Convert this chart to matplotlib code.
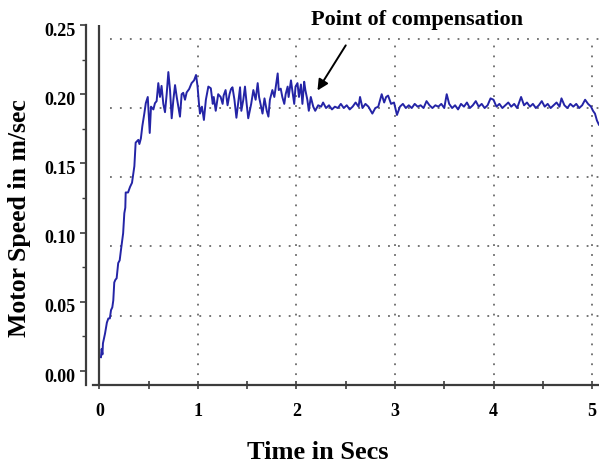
import numpy as np
import matplotlib.pyplot as plt
import matplotlib.transforms as mtransforms
from matplotlib.ticker import MultipleLocator, FixedLocator

# motor speed trace (time in s, speed in m/s)
rise_t = [0.015, 0.022, 0.03, 0.035, 0.056, 0.075, 0.09, 0.105, 0.117, 0.13,
          0.14, 0.15, 0.162, 0.174, 0.19, 0.205, 0.218, 0.24, 0.252, 0.262,
          0.266, 0.29, 0.31, 0.33, 0.354, 0.367, 0.394, 0.405, 0.42, 0.435,
          0.455, 0.47, 0.49, 0.51]
rise_v = [0.010, 0.016, 0.012, 0.020, 0.027, 0.035, 0.038, 0.038, 0.044, 0.046,
          0.051, 0.064, 0.066, 0.067, 0.078, 0.080, 0.0875, 0.0995, 0.114, 0.118,
          0.129, 0.129, 0.133, 0.136, 0.148, 0.165, 0.167, 0.164, 0.168, 0.177,
          0.186, 0.1935, 0.198, 0.172]

noisy_t = [0.523, 0.547, 0.563, 0.58, 0.597, 0.614, 0.63, 0.648, 0.665, 0.682,
           0.699, 0.716, 0.733, 0.75, 0.767, 0.784, 0.80, 0.817, 0.834, 0.85,
           0.868, 0.885, 0.91, 0.935, 0.96, 0.98, 0.995, 1.01, 1.02, 1.04,
           1.06, 1.08, 1.105, 1.13, 1.15, 1.16, 1.18, 1.205, 1.23, 1.25,
           1.26, 1.28, 1.30, 1.32, 1.335, 1.35, 1.37, 1.39, 1.41, 1.427,
           1.44, 1.46, 1.477, 1.494, 1.51, 1.54, 1.562, 1.585, 1.606, 1.62,
           1.64, 1.655, 1.675, 1.698, 1.715, 1.73, 1.755, 1.775, 1.79, 1.809,
           1.82, 1.84, 1.856, 1.876, 1.89, 1.91, 1.92, 1.944, 1.957, 1.977,
           1.99, 2.01, 2.025, 2.045, 2.06, 2.078, 2.09, 2.11, 2.125, 2.145,
           2.17, 2.19, 2.22, 2.25, 2.27]
noisy_v = [0.191, 0.189, 0.1935, 0.195, 0.208, 0.198, 0.206, 0.193, 0.187, 0.200,
           0.216, 0.203, 0.1826, 0.196, 0.2066, 0.198, 0.191, 0.1838, 0.200, 0.201,
           0.196, 0.2013, 0.2037, 0.208, 0.210, 0.2139, 0.206, 0.193, 0.186, 0.191,
           0.1814, 0.196, 0.2055, 0.2043, 0.193, 0.198, 0.188, 0.200, 0.198, 0.193,
           0.199, 0.203, 0.192, 0.200, 0.2037, 0.205, 0.196, 0.183, 0.195, 0.205,
           0.188, 0.196, 0.2055, 0.193, 0.1826, 0.193, 0.203, 0.196, 0.208, 0.198,
           0.191, 0.186, 0.197, 0.188, 0.1838, 0.196, 0.203, 0.198, 0.2055, 0.215,
           0.203, 0.204, 0.198, 0.193, 0.200, 0.2055, 0.198, 0.210, 0.203, 0.193,
           0.2055, 0.208, 0.198, 0.207, 0.193, 0.209, 0.203, 0.196, 0.188, 0.198,
           0.191, 0.188, 0.192, 0.191, 0.194]

settled_t = [2.30, 2.33, 2.36, 2.39, 2.42, 2.45, 2.48, 2.51, 2.54, 2.57,
             2.60, 2.63, 2.645, 2.67, 2.70, 2.73, 2.77, 2.80, 2.83, 2.865,
             2.89, 2.91, 2.93, 2.96, 2.99, 3.02, 3.05, 3.08, 3.11, 3.14,
             3.17, 3.20, 3.23, 3.26, 3.29, 3.32, 3.35, 3.38, 3.41, 3.44,
             3.47, 3.50, 3.525, 3.55, 3.58, 3.61, 3.64, 3.67, 3.70, 3.73,
             3.76, 3.79, 3.82, 3.85, 3.88, 3.91, 3.94, 3.97, 4.00, 4.03,
             4.06, 4.09, 4.12, 4.15, 4.18, 4.21, 4.24, 4.28, 4.31, 4.34,
             4.37, 4.40, 4.43, 4.46, 4.49, 4.52, 4.55, 4.58, 4.61, 4.64,
             4.67, 4.69, 4.72, 4.75, 4.78, 4.81, 4.84, 4.87, 4.90, 4.93,
             4.96, 4.99, 5.01, 5.03, 5.05, 5.07]
settled_v = [0.190, 0.192, 0.189, 0.191, 0.190, 0.193, 0.190, 0.192, 0.189, 0.191,
             0.194, 0.191, 0.198, 0.190, 0.193, 0.191, 0.186, 0.190, 0.191, 0.200,
             0.194, 0.198, 0.199, 0.193, 0.194, 0.185, 0.191, 0.193, 0.190, 0.192,
             0.190, 0.193, 0.191, 0.192, 0.190, 0.195, 0.192, 0.190, 0.192, 0.191,
             0.193, 0.190, 0.200, 0.193, 0.190, 0.192, 0.189, 0.193, 0.191, 0.194,
             0.190, 0.192, 0.195, 0.191, 0.193, 0.190, 0.192, 0.197, 0.196, 0.191,
             0.193, 0.190, 0.192, 0.194, 0.191, 0.193, 0.190, 0.198, 0.192, 0.194,
             0.191, 0.193, 0.190, 0.192, 0.195, 0.191, 0.193, 0.190, 0.192, 0.194,
             0.191, 0.197, 0.192, 0.190, 0.193, 0.191, 0.193, 0.190, 0.192, 0.196,
             0.193, 0.191, 0.188, 0.186, 0.181, 0.178]

y_ticks = [0.00, 0.05, 0.10, 0.15, 0.20, 0.25]
x_ticks = [0, 1, 2, 3, 4, 5]
grid_y = [0.04, 0.09, 0.14, 0.19, 0.24]
grid_x = [1, 2, 3, 4, 5]

t = np.array(rise_t + noisy_t + settled_t)
v = np.array(rise_v + noisy_v + settled_v)

plt.rcParams['font.family'] = 'Liberation Serif'
plt.rcParams['font.weight'] = 'bold'

fig = plt.figure(figsize=(5.99, 4.67), dpi=100)
ax = fig.add_axes([86/599, 1 - 385/467, 513/599, 360/467])
ax.set_xlim(-0.137, 5.071)
ax.set_ylim(-0.0101, 0.25)

axis_col = '#3c3c3c'
dot = (0, (1, 4.5))
ax.hlines(grid_y, 0.107, 5.07, colors='#6a6a6a', linestyles=dot, lw=1.3)
ax.vlines(grid_x, -0.0101, 0.239, colors='#6a6a6a', linestyles=dot, lw=1.3)
ax.axvline(0, color=axis_col, lw=1.6)

ax.plot(t, v, color='#2424a6', lw=1.4)

for s in ['top', 'right']:
    ax.spines[s].set_visible(False)
ax.spines['left'].set_color(axis_col)
ax.spines['left'].set_linewidth(1.6)
ax.spines['bottom'].set_color(axis_col)
ax.spines['bottom'].set_linewidth(1.6)
ax.spines['bottom'].set_bounds(-0.07, 5.071)

ax.set_yticks(y_ticks)
ax.set_yticklabels(['%.2f' % y for y in y_ticks])
ax.yaxis.set_minor_locator(MultipleLocator(0.025))
ax.tick_params(axis='y', which='major', direction='out', length=4, width=1.2,
               color=axis_col, labelsize=13, pad=3.5)
ax.tick_params(axis='y', which='minor', direction='out', length=3, width=1.0,
               color=axis_col)
# y labels sit a little below their ticks in the original
shift = mtransforms.ScaledTranslation(0, -4/100, fig.dpi_scale_trans)
for lab in ax.get_yticklabels():
    lab.set_transform(lab.get_transform() + shift)

ax.set_xticks(x_ticks)
ax.set_xticklabels([str(x) for x in x_ticks])
ax.xaxis.set_minor_locator(FixedLocator([0.5, 1.5, 2.5, 3.5, 4.5]))
ax.tick_params(axis='x', which='both', direction='inout', length=6, width=1.2,
               color=axis_col, labelsize=13, pad=10)

ax.set_xlabel('Time in Secs', fontsize=19, fontweight='bold')
ax.xaxis.set_label_coords(0.452, -0.155)
ax.set_ylabel('Motor Speed in m/sec', fontsize=18.5, fontweight='bold')
ax.yaxis.set_label_coords(-0.107, 0.465)

ax.text(3.225, 0.25, 'Point of compensation', fontsize=16, fontweight='bold',
        ha='center', va='baseline')
ax.annotate('', xy=(2.198, 0.201), xytext=(2.515, 0.237),
            arrowprops=dict(arrowstyle='-|>', color='black', lw=1.4,
                            mutation_scale=16))

fig.savefig('out.png', dpi=100)
